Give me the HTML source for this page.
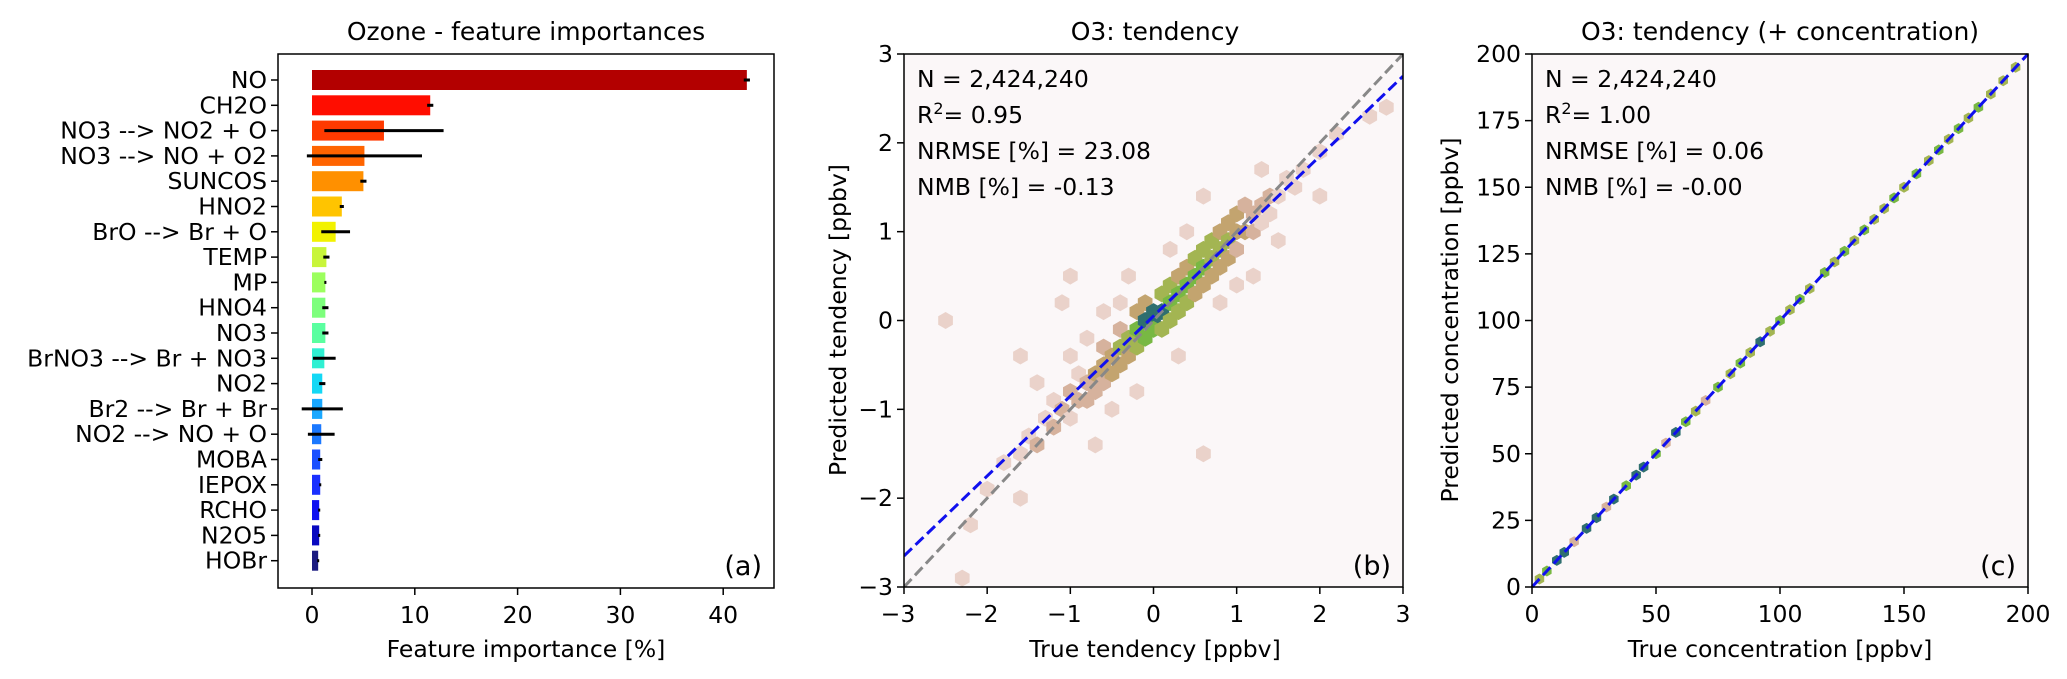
<!DOCTYPE html>
<html><head><meta charset="utf-8"><style>
html,body{margin:0;padding:0;background:#fff}
svg{display:block}
text{font-family:"DejaVu Sans","Liberation Sans",sans-serif;fill:#000}
</style></head><body>
<svg id="fig" width="2067" height="679" viewBox="0 0 2067 679" xmlns="http://www.w3.org/2000/svg">
<g id="pa"></g>
<g id="pb"></g>
<g id="pc"></g>
</svg>
<script>
const features = ["NO","CH2O","NO3 --> NO2 + O","NO3 --> NO + O2","SUNCOS","HNO2","BrO --> Br + O","TEMP","MP","HNO4","NO3","BrNO3 --> Br + NO3","NO2","Br2 --> Br + Br","NO2 --> NO + O","MOBA","IEPOX","RCHO","N2O5","HOBr"];
const importances = [42.3,11.5,7.0,5.1,5.0,2.9,2.3,1.4,1.3,1.3,1.3,1.2,1.0,1.0,0.9,0.8,0.8,0.7,0.7,0.6];
const errors = [0.3,0.3,5.8,5.6,0.3,0.2,1.4,0.3,0.1,0.3,0.3,1.1,0.3,2.0,1.3,0.2,0.1,0.1,0.1,0.1];
const barColors = ["#b30000","#ff0d00","#ff3a00","#ff6400","#ff9000","#ffc400","#f2f200","#c8f53a","#9cff5e","#7dff7c","#5affa0","#2ff0d2","#14d8f5","#1aa8ff","#1a78ff","#1a50ff","#1a30ff","#0f10f0","#0808c0","#1a1a80"];
const xTicksA = [0,10,20,30,40];
const xTicksB = [-3,-2,-1,0,1,2,3];
const yTicksB = [-3,-2,-1,0,1,2,3];
const ticksC = [0,25,50,75,100,125,150,175,200];
// hexbin cells: x, y, density level
const hexX = [-2.2,-2.0,-1.8,-1.6,-1.5,-1.4,-1.3,-1.2,-1.2,-1.1,-1.0,-1.0,-0.9,-0.9,-0.8,-0.8,-0.7,-0.7,-0.6,-0.6,-0.6,-0.5,-0.5,-0.4,-0.4,-0.4,-0.3,-0.3,-0.2,-0.2,-0.2,-0.1,-0.1,-0.1,0,0,0,0.1,0.1,0.1,0.2,0.2,0.2,0.3,0.3,0.3,0.4,0.4,0.4,0.5,0.5,0.5,0.6,0.6,0.6,0.7,0.7,0.7,0.8,0.8,0.8,0.9,0.9,0.9,1.0,1.0,1.0,1.1,1.1,1.2,1.2,1.3,1.3,1.4,1.4,1.5,1.6,1.7,1.8,2.0,2.2,2.6,2.8,-0.4,-0.6,-0.3,0.2,0.4,0.8,1.0,-0.8,-1.0,-0.5,-0.2,0.3,-1.4,-1.6,-0.7,-1.1,-2.5,-1.0,-2.3,-1.6,0.6,0.6,1.2,1.5,2.0,1.3];
const hexY = [-2.3,-1.9,-1.6,-1.5,-1.3,-1.4,-1.1,-1.2,-0.9,-1.0,-0.8,-1.1,-0.9,-0.6,-0.7,-0.9,-0.6,-0.8,-0.5,-0.7,-0.3,-0.4,-0.6,-0.3,-0.5,-0.1,-0.2,-0.4,-0.1,-0.3,0.1,0,-0.2,0.2,0,0.1,-0.1,0.1,0.3,-0.1,0.2,0.4,0,0.3,0.5,0.1,0.4,0.6,0.2,0.5,0.7,0.3,0.6,0.8,0.4,0.7,0.9,0.5,0.8,1.0,0.6,0.9,1.1,0.7,1.0,1.2,0.8,1.0,1.3,1.2,1.0,1.3,1.1,1.4,1.2,1.4,1.6,1.5,1.7,1.9,2.1,2.3,2.4,0.2,0.1,0.5,0.8,1.0,0.2,0.4,-0.2,-0.4,-1.0,-0.8,-0.4,-0.7,-0.4,-1.4,0.2,0.0,0.5,-2.9,-2.0,-1.5,1.4,0.5,0.9,1.4,1.7];
const hexLvl = [1,1,1,1,1,2,1,2,1,2,2,1,2,1,2,2,3,2,3,2,2,3,3,4,3,2,4,3,5,4,3,6,5,3,6,6,5,6,4,4,5,4,4,5,3,4,5,3,4,5,4,3,5,4,3,4,4,3,4,3,3,4,3,3,3,3,2,3,2,2,2,2,1,2,1,1,1,1,1,1,1,1,1,1,1,1,1,1,1,1,1,1,1,1,1,1,1,1,1,1,1,1,1,1,1,1,1,1,1,1];
const fitSlope = 0.9, fitIntercept = 0.05;
// panel c scatter points (true, predicted, level)
const concTrue = [3,6,10,13,17,22,26,30,33,38,42,45,50,54,58,62,66,70,75,80,84,88,92,96,100,104,108,112,118,122,126,130,134,138,142,146,150,155,160,164,168,172,176,180,185,190,195];
const concPred = [3,6,10,13,17,22,26,30,33,38,42,45,50,54,58,62,66,70,75,80,84,88,92,96,100,104,108,112,118,122,126,130,134,138,142,146,150,155,160,164,168,172,176,180,185,190,195];
const concLvl = [4,5,6,6,2,6,6,2,6,5,6,6,5,2,6,5,4,2,5,4,5,4,6,4,5,4,5,4,5,4,5,4,5,4,4,5,4,5,4,5,4,5,4,5,4,4,4];
const lvlColors = ["#fbf7f8","#ead2ca","#d6b29d","#c3a46f","#a3b552","#78b843","#2f6f6f"];

const NS="http://www.w3.org/2000/svg";
function mk(parent,tag,attrs,txt){const e=document.createElementNS(NS,tag);for(const k in attrs)e.setAttribute(k,attrs[k]);if(txt!==undefined)e.textContent=txt;parent.appendChild(e);return e;}
const FS=23.5;

// ---------- Panel A ----------
const pa=document.getElementById('pa');
const A={l:278,r:774,t:54,b:588,x0:312,k:10.28,y0:80,dy:25.3,bh:20};
const ax=v=>A.x0+v*A.k, ay=i=>A.y0+i*A.dy;
let t=mk(pa,'text',{x:526,y:40,'text-anchor':'middle','font-size':25});t.textContent="Ozone - feature importances";


features.forEach((f,i)=>{
  const r=mk(pa,'rect',{x:ax(0),y:ay(i)-A.bh/2,width:ax(importances[i])-ax(0),height:A.bh,fill:barColors[i]});
  
  
  const e=mk(pa,'line',{x1:ax(importances[i]-errors[i]),x2:ax(importances[i]+errors[i]),y1:ay(i),y2:ay(i),stroke:'#000','stroke-width':3});
  
  
  mk(pa,'line',{x1:A.l-7,x2:A.l,y1:ay(i),y2:ay(i),stroke:'#000','stroke-width':1.5});
  const l=mk(pa,'text',{x:A.l-11,y:ay(i)+8,'text-anchor':'end','font-size':FS},f);
  
  
});
let fr=mk(pa,'rect',{x:A.l,y:A.t,width:A.r-A.l,height:A.b-A.t,fill:'none',stroke:'#000','stroke-width':1.5});


xTicksA.forEach(v=>{mk(pa,'line',{x1:ax(v),x2:ax(v),y1:A.b,y2:A.b+7,stroke:'#000','stroke-width':1.5});
  const l=mk(pa,'text',{x:ax(v),y:A.b+35,'text-anchor':'middle','font-size':FS},String(v));
  
  });
t=mk(pa,'text',{x:526,y:657,'text-anchor':'middle','font-size':FS},"Feature importance [%]");


t=mk(pa,'text',{x:762,y:575,'text-anchor':'end','font-size':27},"(a)");



// ---------- Panel B ----------
const pb=document.getElementById('pb');
const B={l:904,r:1403,t:54,b:587};
const bx=v=>B.l+(v+3)/6*(B.r-B.l), by=v=>B.b-(v+3)/6*(B.b-B.t);
mk(pb,'rect',{x:B.l,y:B.t,width:B.r-B.l,height:B.b-B.t,fill:lvlColors[0]});
mk(pb,'clipPath',{id:'clipb'});
mk(document.getElementById('clipb'),'rect',{x:B.l,y:B.t,width:B.r-B.l,height:B.b-B.t});
const hb=mk(pb,'g',{'clip-path':'url(#clipb)'});
function hexPts(cx,cy,r){let p=[];for(let k=0;k<6;k++){const a=Math.PI/180*(60*k+30);p.push((cx+r*Math.cos(a)).toFixed(1)+','+(cy+r*Math.sin(a)).toFixed(1));}return p.join(' ');}
hexX.forEach((x,i)=>{
  const h=mk(hb,'polygon',{points:hexPts(bx(x),by(hexY[i]),8.5),fill:lvlColors[hexLvl[i]||1]});
  
  
});
let ln=mk(hb,'line',{x1:bx(-3),y1:by(-3),x2:bx(3),y2:by(3),stroke:'#888','stroke-width':3,'stroke-dasharray':'11,5'});


ln=mk(hb,'line',{x1:bx(-3),y1:by(-3*fitSlope+fitIntercept),x2:bx(3),y2:by(3*fitSlope+fitIntercept),stroke:'#1010ee','stroke-width':3,'stroke-dasharray':'11,5'});


fr=mk(pb,'rect',{x:B.l,y:B.t,width:B.r-B.l,height:B.b-B.t,fill:'none',stroke:'#000','stroke-width':1.5});


xTicksB.forEach(v=>{mk(pb,'line',{x1:bx(v),x2:bx(v),y1:B.b,y2:B.b+7,stroke:'#000','stroke-width':1.5});
  const l=mk(pb,'text',{x:bx(v)-(v<0?6:0),y:B.b+35,'text-anchor':'middle','font-size':FS},(v<0?'\u2212':'')+Math.abs(v));
  
  });
yTicksB.forEach(v=>{mk(pb,'line',{x1:B.l-7,x2:B.l,y1:by(v),y2:by(v),stroke:'#000','stroke-width':1.5});
  const l=mk(pb,'text',{x:B.l-11,y:by(v)+8,'text-anchor':'end','font-size':FS},(v<0?'\u2212':'')+Math.abs(v));
  
  });
t=mk(pb,'text',{x:1155,y:40,'text-anchor':'middle','font-size':25},"O3: tendency");


t=mk(pb,'text',{x:1155,y:657,'text-anchor':'middle','font-size':FS},"True tendency [ppbv]");


t=mk(pb,'text',{x:0,y:0,'text-anchor':'middle','font-size':FS,transform:'translate(846,320) rotate(-90)'},"Predicted tendency [ppbv]");


function stats(g,x,y,lines,pre){
  lines.forEach((s,i)=>{const tt=mk(g,'text',{x:x,y:y+i*36,'font-size':FS});
    if(s.startsWith('R2')){tt.innerHTML='R<tspan dy="-9" font-size="16">2</tspan><tspan dy="9">'+s.slice(2)+'</tspan>';}else tt.textContent=s;
    
    });
}
stats(pb,B.l+13,87,["N = 2,424,240","R2= 0.95","NRMSE [%] = 23.08","NMB [%] = -0.13"],'b');
t=mk(pb,'text',{x:B.r-12,y:575,'text-anchor':'end','font-size':27},"(b)");



// ---------- Panel C ----------
const pc=document.getElementById('pc');
const C={l:1532,r:2028,t:54,b:587};
const cx=v=>C.l+v/200*(C.r-C.l), cy=v=>C.b-v/200*(C.b-C.t);
mk(pc,'rect',{x:C.l,y:C.t,width:C.r-C.l,height:C.b-C.t,fill:lvlColors[0]});
concTrue.forEach((v,i)=>{
  const p=mk(pc,'polygon',{points:hexPts(cx(v),cy(concPred[i]),5.5),fill:lvlColors[concLvl[i]||4]});
  
  
});
ln=mk(pc,'line',{x1:cx(0),y1:cy(0),x2:cx(200),y2:cy(200),stroke:'#1010ee','stroke-width':3,'stroke-dasharray':'11,5'});


fr=mk(pc,'rect',{x:C.l,y:C.t,width:C.r-C.l,height:C.b-C.t,fill:'none',stroke:'#000','stroke-width':1.5});


ticksC.forEach(v=>{
  if(v%50===0){mk(pc,'line',{x1:cx(v),x2:cx(v),y1:C.b,y2:C.b+7,stroke:'#000','stroke-width':1.5});
  const l=mk(pc,'text',{x:cx(v),y:C.b+35,'text-anchor':'middle','font-size':FS},String(v));
  
  }
  mk(pc,'line',{x1:C.l-7,x2:C.l,y1:cy(v),y2:cy(v),stroke:'#000','stroke-width':1.5});
  const l2=mk(pc,'text',{x:C.l-11,y:cy(v)+8,'text-anchor':'end','font-size':FS},String(v));
  
  
});
t=mk(pc,'text',{x:1780,y:40,'text-anchor':'middle','font-size':25},"O3: tendency (+ concentration)");


t=mk(pc,'text',{x:1780,y:657,'text-anchor':'middle','font-size':FS},"True concentration [ppbv]");


t=mk(pc,'text',{x:0,y:0,'text-anchor':'middle','font-size':FS,transform:'translate(1458,320) rotate(-90)'},"Predicted concentration [ppbv]");


stats(pc,C.l+13,87,["N = 2,424,240","R2= 1.00","NRMSE [%] = 0.06","NMB [%] = -0.00"],'c');
t=mk(pc,'text',{x:C.r-12,y:575,'text-anchor':'end','font-size':27},"(c)");


</script>
</body></html>
